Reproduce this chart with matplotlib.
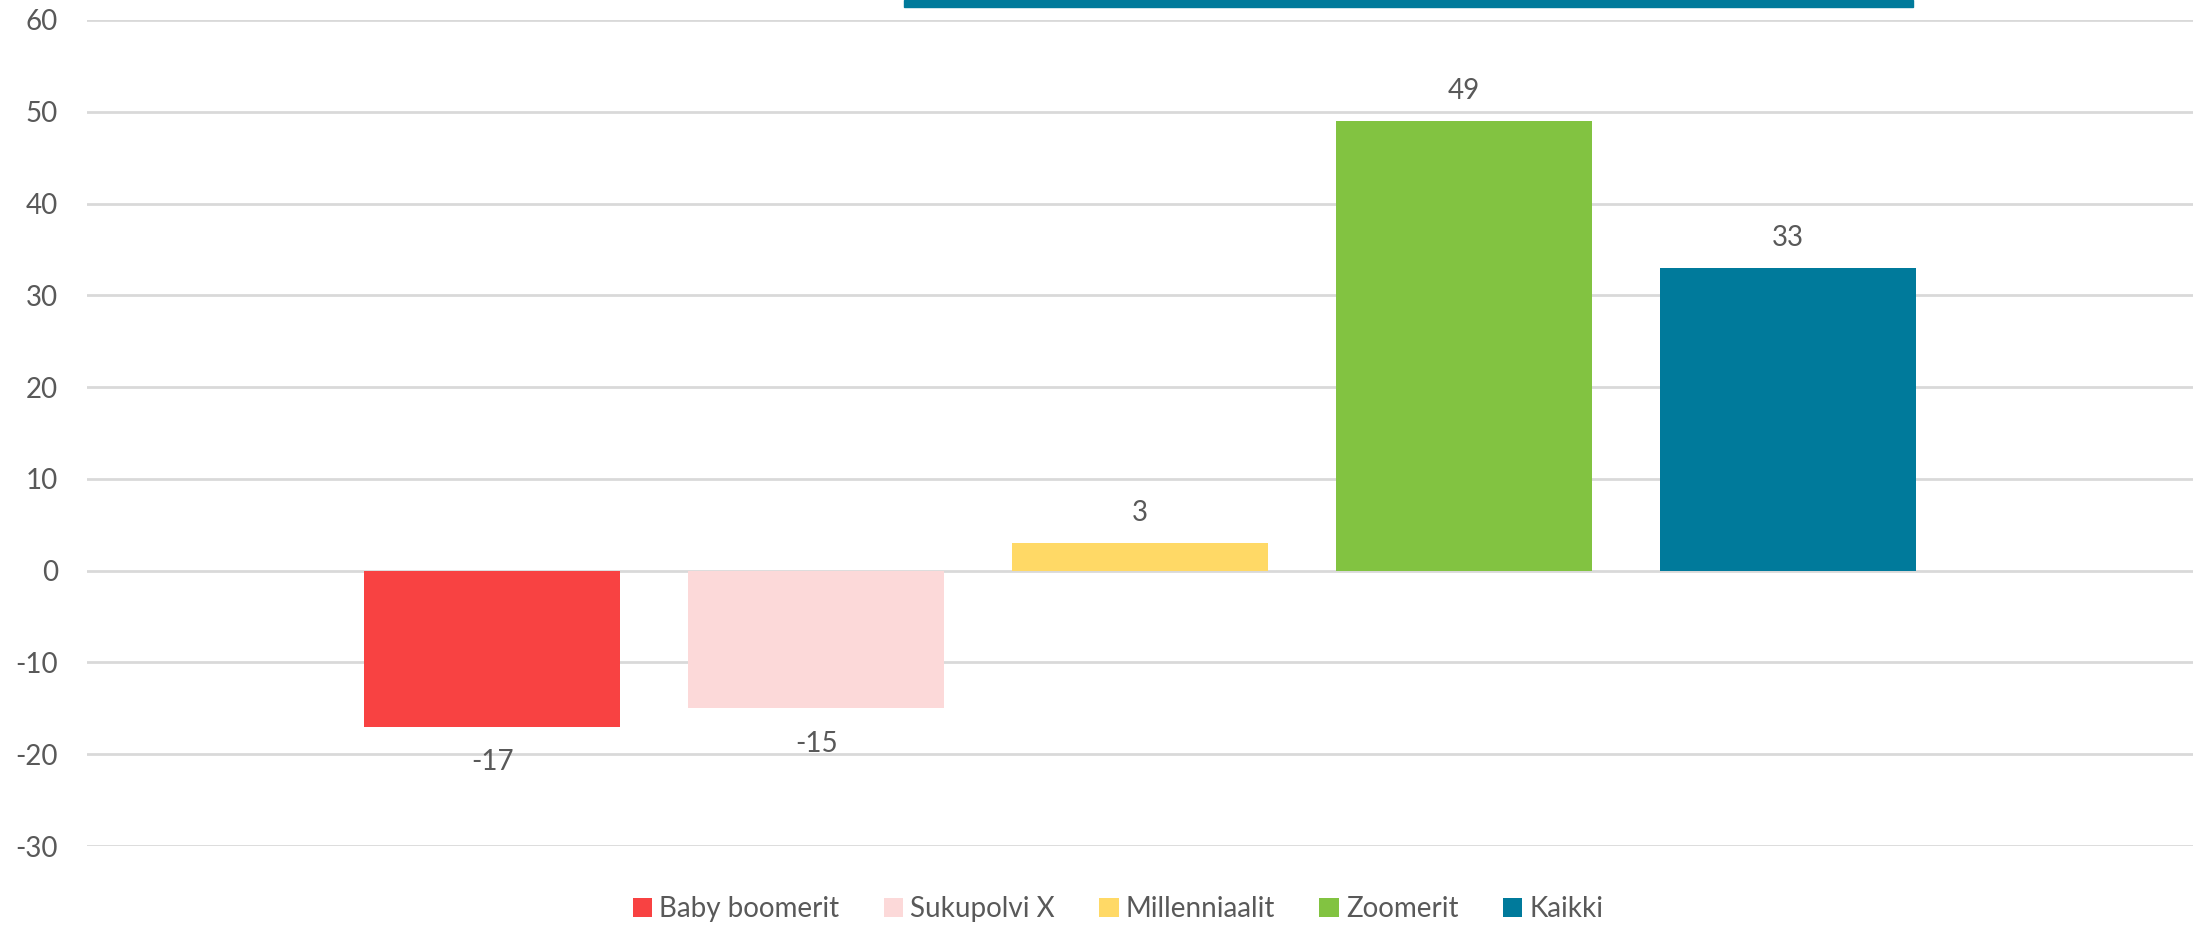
import matplotlib
matplotlib.use('Agg')
import matplotlib.pyplot as plt
from matplotlib.patches import Rectangle

# data
categories = ['Baby boomerit', 'Sukupolvi X', 'Millenniaalit', 'Zoomerit', 'Kaikki']
values = [-17, -15, 3, 49, 33]
colors = ['#F84242', '#FCD9D9', '#FFD966', '#82C341', '#007A9B']
y_ticks = [-30, -20, -10, 0, 10, 20, 30, 40, 50, 60]

text_grey = '#595959'
grid_grey = '#D9D9D9'

plt.rcParams['font.family'] = ['Lato', 'DejaVu Sans']
plt.rcParams['font.size'] = 20
plt.rcParams['axes.unicode_minus'] = False


def main():
    fig = plt.figure(figsize=(22.05, 9.25), dpi=100)
    ax = fig.add_axes([0.0395, 0.0854, 0.9551, 0.893])

    # one bar per group, each its own legend entry
    for i, (name, val, col) in enumerate(zip(categories, values, colors)):
        bars = ax.bar(i, val, width=0.79, color=col, label=name, zorder=3)
        # labels under negative bars sit a little further away
        pad = 12 if val >= 0 else 16
        ax.bar_label(bars, labels=[f'{val}'], padding=pad, color=text_grey, fontsize=20)

    ax.set_xlim(-1.25, 5.25)
    ax.set_ylim(-30, 60)
    ax.set_yticks(y_ticks)
    ax.set_xticks([])
    ax.yaxis.grid(True, color=grid_grey, linewidth=2, zorder=0)
    ax.tick_params(axis='y', length=0, pad=21, labelcolor=text_grey, labelsize=20)
    for s in ax.spines.values():
        s.set_visible(False)

    # cut-off teal strip at the very top of the picture
    fig.patches.append(Rectangle((904 / 2205, 1 - 7 / 925), (1913 - 904) / 2205, 7 / 925,
                                 transform=fig.transFigure, color='#007A9B', zorder=5))

    fig.legend(loc='center', bbox_to_anchor=(0.507, 0.017), ncol=5, frameon=False,
               handlelength=0.7, handleheight=0.7, handletextpad=0.25, columnspacing=1.6,
               labelcolor=text_grey, fontsize=20)

    fig.savefig('out.png', dpi=100, facecolor='white')


if __name__ == '__main__':
    main()
